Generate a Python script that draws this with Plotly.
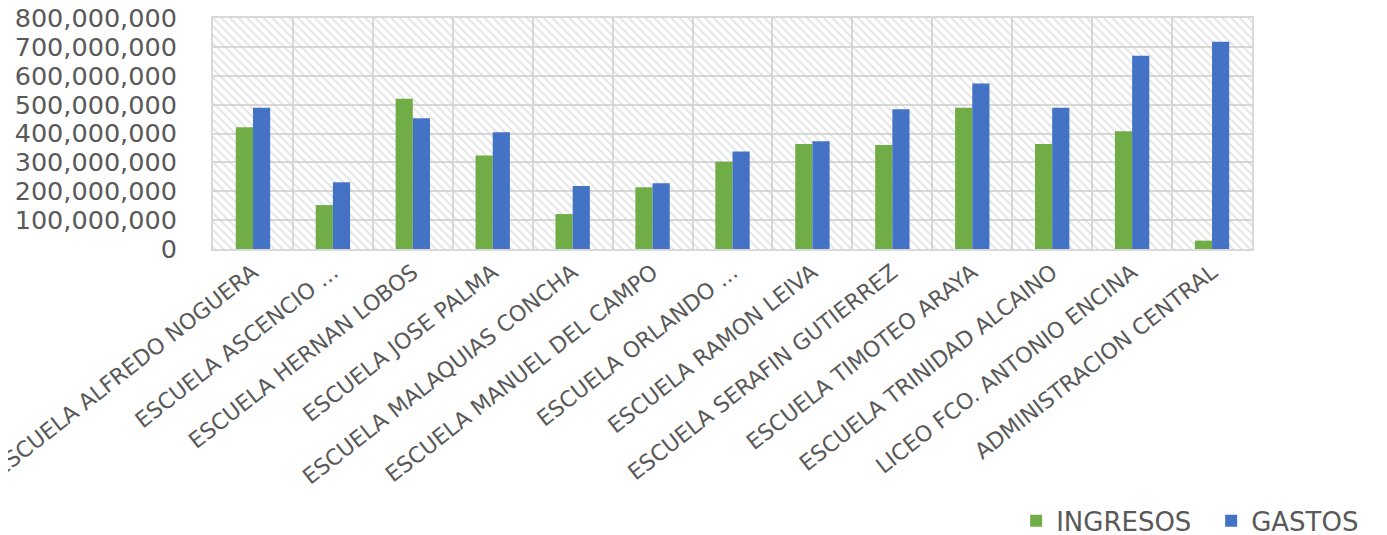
import plotly.graph_objects as go

categories = [
    "ESCUELA ALFREDO NOGUERA",
    "ESCUELA ASCENCIO ...",
    "ESCUELA HERNAN LOBOS",
    "ESCUELA JOSE PALMA",
    "ESCUELA MALAQUIAS CONCHA",
    "ESCUELA MANUEL DEL CAMPO",
    "ESCUELA ORLANDO ...",
    "ESCUELA RAMON LEIVA",
    "ESCUELA SERAFIN GUTIERREZ",
    "ESCUELA TIMOTEO ARAYA",
    "ESCUELA TRINIDAD ALCAINO",
    "LICEO FCO. ANTONIO ENCINA",
    "ADMINISTRACION CENTRAL",
]
ingresos = [422e6, 152e6, 520e6, 324e6, 121e6, 214e6, 302e6, 364e6, 360e6, 489e6, 364e6, 408e6, 29e6]
gastos = [489e6, 231e6, 453e6, 404e6, 218e6, 228e6, 338e6, 373e6, 484e6, 573e6, 489e6, 669e6, 718e6]
y_max = 800e6

GRID = "#d9d9d9"
TXT = "#595959"
FONT = "DejaVu Sans"

fig = go.Figure()

# hatched plot-area background
n = len(categories)
fig.add_trace(go.Bar(
    x=[categories[n // 2]], y=[y_max],
    width=[n], offset=[-n / 2],
    marker=dict(color="rgba(0,0,0,0)", line=dict(width=0),
                pattern=dict(shape="\\", size=6, solidity=0.35,
                             fgcolor="#cccccc", fillmode="overlay")),
    showlegend=False, hoverinfo="skip",
))

bw = 0.215
fig.add_trace(go.Bar(
    x=categories, y=ingresos, name="INGRESOS",
    width=bw, offset=-bw,
    marker=dict(color="#70AD47", line=dict(width=0)),
))
fig.add_trace(go.Bar(
    x=categories, y=gastos, name="GASTOS",
    width=bw, offset=0,
    marker=dict(color="#4472C4", line=dict(width=0)),
))

fig.update_layout(
    width=1387, height=535,
    margin=dict(l=205, r=143, t=10, b=294, autoexpand=False),
    paper_bgcolor="white", plot_bgcolor="white",
    barmode="overlay",
    font=dict(family=FONT, color=TXT),
    legend=dict(orientation="h", x=0.773, xanchor="left", y=-1.177, yanchor="middle",
                font=dict(size=26, color=TXT), itemwidth=30, entrywidth=150,
                traceorder="normal"),
    xaxis=dict(
        type="category", categoryorder="array", categoryarray=categories,
        tickangle=-38, tickson="boundaries",
        showgrid=True, gridcolor=GRID, gridwidth=2,
        showline=True, linecolor=GRID, linewidth=2, mirror=True,
        ticks="", tickfont=dict(size=22, color=TXT), automargin=False,
        range=[-0.5, n - 0.5],
    ),
    yaxis=dict(
        range=[0, y_max], dtick=100e6, tickformat=",",
        showgrid=True, gridcolor=GRID, gridwidth=2,
        showline=True, linecolor=GRID, linewidth=2, mirror=True,
        zeroline=False, ticks="", ticklabelstandoff=29,
        ticklabeloverflow="allow",
        tickfont=dict(size=25.5, color=TXT), automargin=False,
    ),
)

fig.write_html("out.html")
